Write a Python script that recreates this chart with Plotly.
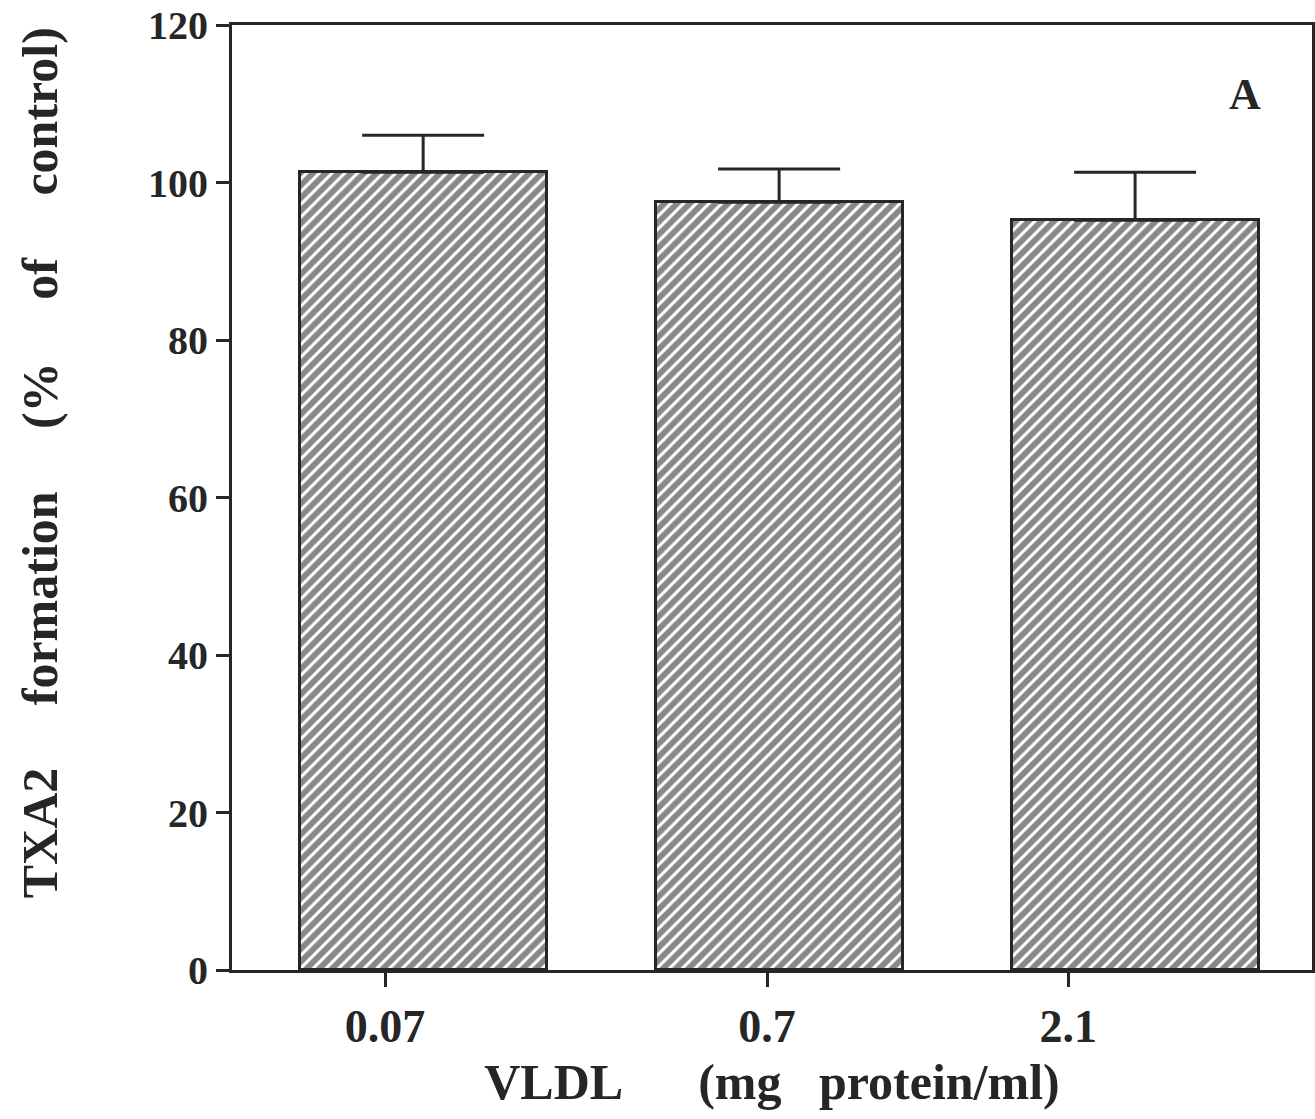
import plotly.graph_objects as go

# Data
categories = ["0.07", "0.7", "2.1"]
bar_positions = [0, 1, 2]
txa2_values = [101.3, 97.5, 95.2]
sem_upper = [4.7, 4.2, 6.1]
tick_positions = [-0.107, 0.966, 1.812]
tick_labels = ["0.07", "0.7", "2.1"]
y_tick_values = [0, 20, 40, 60, 80, 100, 120]

INK = "#262626"
FONT = "Liberation Serif"
SP = "\u00a0"

fig = go.Figure()
fig.add_trace(go.Bar(
    x=bar_positions,
    y=txa2_values,
    width=0.694,
    marker=dict(
        color="white",
        line=dict(color=INK, width=3),
        pattern=dict(shape="/", fgcolor="#111111", bgcolor="white", size=9, solidity=0.66),
    ),
    error_y=dict(
        type="data", symmetric=False, array=sem_upper,
        arrayminus=[0] * len(sem_upper),
        color=INK, thickness=3, width=61,
    ),
    hoverinfo="skip",
    showlegend=False,
))

fig.update_layout(
    width=1315, height=1119,
    margin=dict(l=232, r=3, t=25, b=149, autoexpand=False),
    paper_bgcolor="white", plot_bgcolor="white",
    font=dict(family=FONT, color=INK, weight="bold"),
    bargap=0,
    xaxis=dict(
        range=[-0.537, 2.497],
        automargin=False,
        tickmode="array", tickvals=tick_positions, ticktext=tick_labels,
        ticks="outside", ticklen=14, tickwidth=3, tickcolor=INK,
        showline=True, linecolor=INK, linewidth=3, mirror=True,
        showgrid=False, zeroline=False,
        ticklabeloverflow="allow",
        tickfont=dict(family=FONT, size=46, color=INK, weight="bold"),
        title=dict(
            text="VLDL" + SP * 6 + "(mg" + SP * 3 + "protein/ml)",
            font=dict(family=FONT, size=50, color=INK, weight="bold"),
            standoff=13,
        ),
    ),
    yaxis=dict(
        range=[0, 120],
        automargin=False,
        tickmode="array", tickvals=y_tick_values,
        ticks="outside", ticklen=13, tickwidth=3, tickcolor=INK,
        showline=True, linecolor=INK, linewidth=3, mirror=True,
        showgrid=False, zeroline=False,
        ticklabeloverflow="allow",
        tickfont=dict(family=FONT, size=40, color=INK, weight="bold"),
    ),
    annotations=[
        dict(
            text="TXA2" + SP * 5 + "formation" + SP * 5 + "(%" + SP * 5 + "of" + SP * 5 + "control)",
            xref="paper", yref="paper", x=-0.178, y=0.537,
            textangle=-90, showarrow=False, xanchor="center", yanchor="middle",
            font=dict(family=FONT, size=50, color=INK, weight="bold"),
        ),
        dict(
            text="A", xref="paper", yref="paper", x=0.938, y=0.926,
            showarrow=False, xanchor="center", yanchor="middle",
            font=dict(family=FONT, size=44, color=INK, weight="bold"),
        ),
    ],
)

fig.write_html(
    "out.html",
    config={"displayModeBar": False},
    post_script="document.body.style.margin='0px';",
)
